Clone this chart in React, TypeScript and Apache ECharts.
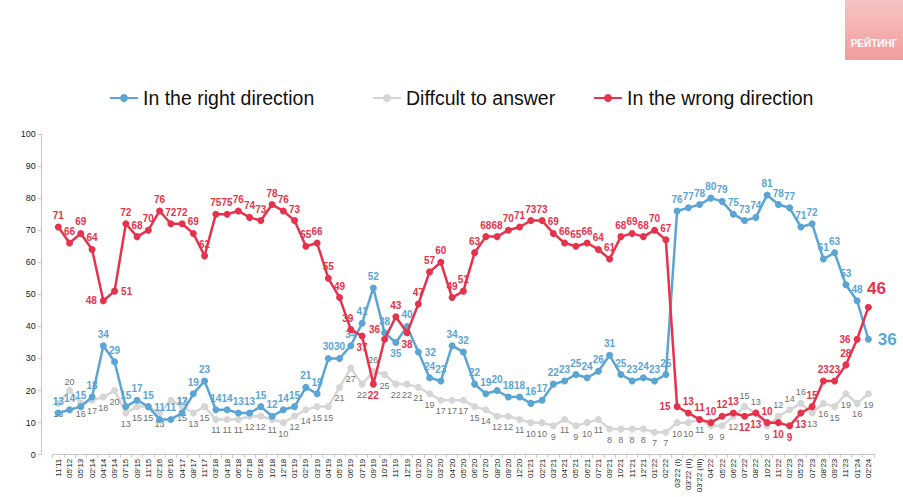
import React, { useEffect, useRef } from "react";
import * as echarts from "echarts";

const categories = [
  "11'11", "05'12", "05'13", "02'14", "04'14", "09'14", "07'15", "09'15", "11'15", "02'16",
  "06'16", "04'17", "08'17", "11'17", "03'18", "04'18", "06'18", "07'18", "09'18", "10'18",
  "12'18", "01'19", "02'19", "03'19", "04'19", "05'19", "06'19", "07'19", "09'19", "10'19",
  "11'19", "12'19", "01'20", "02'20", "03'20", "04'20", "05'20", "06'20", "07'20", "08'20",
  "09'20", "12'20", "01'21", "02'21", "03'21", "04'21", "05'21", "06'21", "07'21", "09'21",
  "10'21", "11'21", "12'21", "01'22", "02'22", "03'22 (I)", "03'22 (II)", "03'22 (III)", "04'22", "05'22",
  "06'22", "07'22", "08'22", "10'22", "11'22", "02'23", "05'23", "07'23", "08'23", "09'23",
  "11'23", "01'24", "02'24",
];

const rightDirection = [
  13, 14, 15, 18, 34, 29, 15, 17, 15, 11, 11, 13, 19, 23, 14, 14, 13, 13, 15, 12, 14, 15, 21, 19, 30,
  30, 34, 41, 52, 38, 35, 40, 32, 24, 23, 34, 32, 22, 19, 20, 18, 18, 16, 17, 22, 23, 25, 24, 26, 31, 25,
  23, 24, 23, 25,
  76, 77, 78, 80, 79, 75, 73, 74, 81, 78, 77, 71, 72, 61, 63, 53, 48, 36,
];

const difficultToAnswer = [
  16, 20, 16, 17, 18, 20, 13, 15, 15, 13, 17, 15, 13, 15, 11, 11, 11, 12, 12, 11, 10, 12, 14, 15, 15,
  21, 27, 22, 26, 25, 22, 22, 21, 19, 17, 17, 17, 15, 14, 12, 12, 11, 10, 10, 9, 11, 9, 10, 11,
  8, 8, 8, 8, 7, 7,
  10, 10, 11, 9, 9, 12, 15, 13, 9, 12, 14, 16, 13, 16, 15, 19, 16, 19,
];

const wrongDirection = [
  71, 66, 69, 64, 48, 51, 72, 68, 70, 76, 72, 72, 69, 62, 75, 75, 76, 74, 73, 78, 76, 73, 65, 66, 55,
  49, 39, 37, 22, 36, 43, 38, 47, 57, 60, 49, 51, 63, 68, 68, 70, 71, 73, 73, 69, 66, 65, 66, 64, 61, 68, 69, 68, 70, 67,
  15, 13, 11, 10, 12, 13, 12, 13, 10, 10, 9, 13, 15, 23, 23, 28, 36, 46,
];

const seriesNames = ["In the right direction", "Diffcult to answer", "In the wrong direction"];

const BLUE = "#5ba5d4";
const GRAY = "#d6d6d6";
const RED = "#e5334d";
const FONT = "'Liberation Sans', Arial, Helvetica, sans-serif";

function withLabels(values: number[], overrides: Record<number, any>) {
  return values.map((v, i) => {
    const o = overrides[i];
    if (!o) return { value: v };
    return { value: v, label: typeof o === "string" ? { position: o } : o };
  });
}

export default function App() {
  const ref = useRef<HTMLDivElement>(null);

  useEffect(() => {
    if (!ref.current) return;
    const chart = echarts.init(ref.current, null, { renderer: "svg" });

    const redOver: Record<number, any> = {
      4: "left", 5: "right", 26: { position: "top", offset: [-3, 0] }, 27: "bottom", 28: "bottom",
      29: { position: "top", offset: [-10, 2] }, 31: "bottom", 55: "left",
      61: "bottom", 62: "bottom", 64: "bottom", 65: "bottom", 66: "bottom", 71: "left",
      72: { position: "top", offset: [8, -4], fontSize: 17 },
    };
    const blueOver: Record<number, any> = {
      30: "bottom", 32: "right",
      72: { position: "right", fontSize: 17, distance: 6 },
    };
    const grayOver: Record<number, any> = {
      1: { position: "top", distance: 1 },
      10: "right",
      28: "top", 61: "top", 62: "top", 64: "top", 65: "top", 66: "top",
    };

    const labelBase = (color: string, bold: boolean, size: number, pos: string) => ({
      show: true,
      position: pos,
      color,
      fontSize: size,
      fontWeight: bold ? "bold" : "normal",
      fontFamily: "'Liberation Sans Narrow', 'Liberation Sans', Arial, sans-serif",
      distance: 3,
    });

    const legendBase = {
      top: 83,
      itemWidth: 28,
      itemHeight: 10,
      itemGap: 5,
      textStyle: { fontSize: 19.5, color: "#111", fontFamily: FONT },
    };

    chart.setOption({
      animation: false,
      backgroundColor: "#ffffff",
      textStyle: { fontFamily: FONT },
      legend: [
        { ...legendBase, left: 104, data: [seriesNames[0]] },
        { ...legendBase, left: 367, data: [seriesNames[1]] },
        { ...legendBase, left: 588, data: [seriesNames[2]] },
      ],
      grid: { left: 52.7, right: 29, top: 134, bottom: 42.3, containLabel: false },
      xAxis: {
        type: "category",
        data: categories,
        boundaryGap: true,
        axisLine: { show: true, lineStyle: { color: "#c8c8c8", width: 1 } },
        axisTick: { show: true, length: 3, lineStyle: { color: "#c8c8c8" } },
        axisLabel: {
          interval: 0,
          rotate: 90,
          fontSize: 8,
          color: "#222",
          margin: 4,
          fontFamily: FONT,
        },
      },
      yAxis: {
        type: "value",
        min: 0,
        max: 100,
        interval: 10,
        offset: 11,
        axisLine: { show: true, lineStyle: { color: "#c8c8c8", width: 1 } },
        axisTick: { show: true, length: 4, lineStyle: { color: "#c8c8c8" } },
        splitLine: { show: false },
        axisLabel: { fontSize: 9, color: "#222", margin: 6, fontFamily: FONT },
      },
      series: [
        {
          name: seriesNames[1],
          type: "line",
          data: withLabels(difficultToAnswer, grayOver),
          symbol: "circle",
          symbolSize: 7,
          lineStyle: { color: GRAY, width: 2.5 },
          itemStyle: { color: GRAY },
          label: labelBase("#707070", false, 9, "bottom"),
          z: 2,
        },
        {
          name: seriesNames[0],
          type: "line",
          data: withLabels(rightDirection, blueOver),
          symbol: "circle",
          symbolSize: 7,
          lineStyle: { color: BLUE, width: 2.5 },
          itemStyle: { color: BLUE },
          label: labelBase(BLUE, true, 10, "top"),
          z: 3,
        },
        {
          name: seriesNames[2],
          type: "line",
          data: withLabels(wrongDirection, redOver),
          symbol: "circle",
          symbolSize: 7,
          lineStyle: { color: RED, width: 2.5 },
          itemStyle: { color: RED },
          label: labelBase(RED, true, 10, "top"),
          z: 4,
        },
      ],
      graphic: [
        {
          type: "group",
          right: 0,
          top: 0,
          children: [
            {
              type: "rect",
              shape: { x: 0, y: 0, width: 58, height: 60 },
              style: {
                fill: new echarts.graphic.LinearGradient(0, 0, 0, 1, [
                  { offset: 0, color: "#f6c4c4" },
                  { offset: 1, color: "#f19b9b" },
                ]),
              },
            },
            {
              type: "text",
              x: 29,
              y: 43,
              style: {
                text: "РЕЙТИНГ",
                fill: "#ffffff",
                fontSize: 10,
                fontWeight: "bold",
                fontFamily: FONT,
                align: "center",
                verticalAlign: "middle",
              },
            },
          ],
        },
      ],
    });

    return () => chart.dispose();
  }, []);

  return (
    <div
      ref={ref}
      style={{ position: "fixed", left: 0, top: 0, width: 903, height: 497, background: "#fff" }}
    />
  );
}
